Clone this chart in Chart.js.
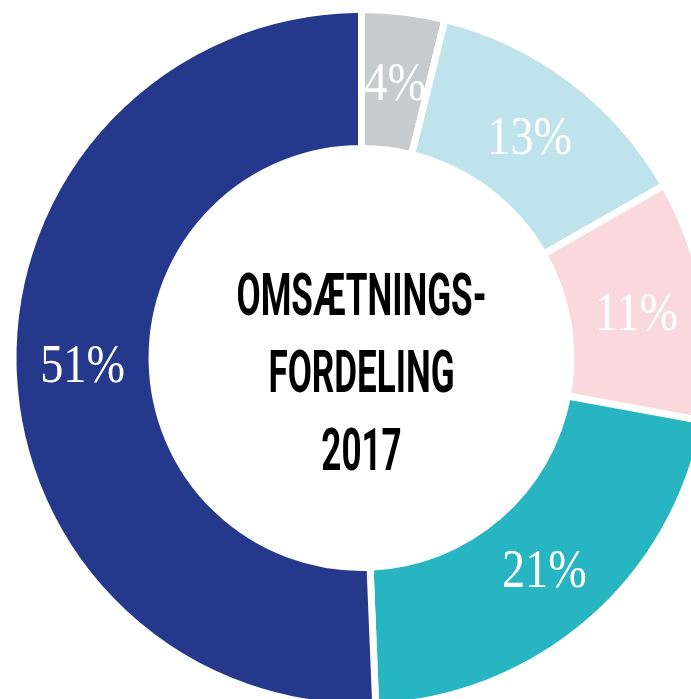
<!DOCTYPE html>
<html>
<head>
<meta charset="utf-8">
<script src="https://cdn.jsdelivr.net/npm/chart.js@4"></script>
<style>
  html, body { margin: 0; padding: 0; background: #fff; overflow: hidden; }
  #wrap { position: absolute; left: 0; top: 0; width: 723px; height: 716px; }
</style>
</head>
<body>
<div id="wrap"><canvas id="fordelingChart"></canvas></div>
<script>
// ============= Data =============
const kategorier = ["A", "B", "C", "D", "E"];
// andele aflæst fra stykkernes vinkler (vises afrundet)
const andele = [3.85, 12.9, 11.15, 21.45, 50.65];
const farver = ["#c8cbce", "#bee3ea", "#fad9dc", "#27b6c1", "#25388b"];
const titelLinjer = ["OMSÆTNINGS-", "FORDELING", "2017"];

// procent-labels midt i hvert stykke
const procentLabels = {
  id: "procentLabels",
  afterDatasetsDraw(chart) {
    const ctx = chart.ctx;
    const meta = chart.getDatasetMeta(0);
    const size = 55;
    ctx.save();
    ctx.font = `${size}px "Liberation Serif", serif`;
    ctx.fillStyle = "#ffffff";
    ctx.textAlign = "center";
    ctx.textBaseline = "alphabetic";
    meta.data.forEach((arc, i) => {
      const { x, y } = arc.getCenterPoint();
      ctx.save();
      ctx.translate(x, y + size * 0.34);
      ctx.scale(0.84, 1);
      ctx.fillText(Math.round(andele[i]) + "%", 0, 0);
      ctx.restore();
    });
    ctx.restore();
  },
};

// titel i midten
const midterTekst = {
  id: "midterTekst",
  afterDraw(chart) {
    const ctx = chart.ctx;
    const arc = chart.getDatasetMeta(0).data[0];
    const cx = arc.x;
    const cy = arc.y;
    ctx.save();
    ctx.font = 'bold 59px Roboto, "Liberation Sans", sans-serif';
    ctx.fillStyle = "#000000";
    ctx.textAlign = "center";
    ctx.textBaseline = "alphabetic";
    const sx = 250 / ctx.measureText(titelLinjer[0]).width;
    const baser = [-43, 34, 112];
    titelLinjer.forEach((linje, i) => {
      ctx.save();
      ctx.translate(cx, cy + baser[i]);
      ctx.scale(sx, 1);
      ctx.fillText(linje, 0, 0);
      ctx.restore();
    });
    ctx.restore();
  },
};

new Chart(document.getElementById("fordelingChart"), {
  type: "doughnut",
  data: {
    labels: kategorier,
    datasets: [
      {
        data: andele,
        backgroundColor: farver,
        borderColor: "#ffffff",
        borderWidth: 7,
        hoverOffset: 0,
      },
    ],
  },
  options: {
    responsive: true,
    maintainAspectRatio: false,
    animation: false,
    events: [],
    cutout: "60.1%",
    layout: { padding: 6 },
    plugins: {
      legend: { display: false },
      tooltip: { enabled: false },
    },
  },
  plugins: [procentLabels, midterTekst],
});
</script>
</body>
</html>
